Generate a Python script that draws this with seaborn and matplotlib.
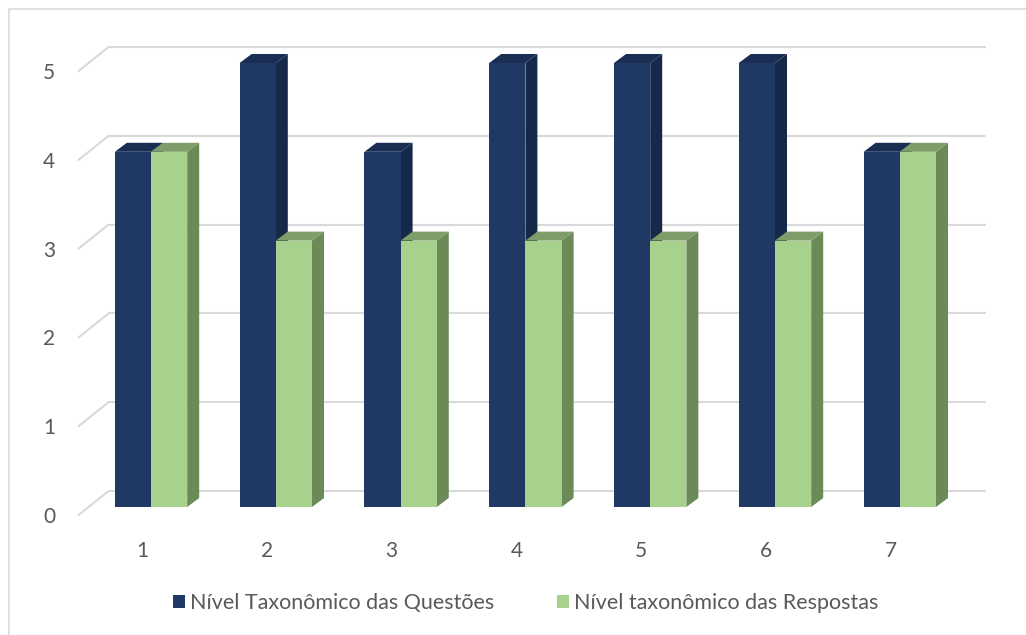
"""
Gráfico de barras (estilo 3D do Excel): nível taxonômico das questões x respostas.
"""
import matplotlib
matplotlib.use("Agg")
import matplotlib.pyplot as plt
from matplotlib.patches import Polygon, Rectangle
from matplotlib.lines import Line2D
from matplotlib.transforms import ScaledTranslation
import pandas as pd
import seaborn as sns

# --- dados ---
questoes = ["1", "2", "3", "4", "5", "6", "7"]
nivel_questoes = [4, 5, 4, 5, 5, 5, 4]
nivel_respostas = [4, 3, 3, 3, 3, 3, 4]
series = ["Nível Taxonômico das Questões", "Nível taxonômico das Respostas"]
yticks = [0, 1, 2, 3, 4, 5]

cores_frente = ["#203864", "#A9D18E"]
cores_lado = ["#172949", "#6B8A58"]
cores_topo = ["#1A2E54", "#7E9D68"]
cor_texto = "#595959"
cor_grade = "#D9D9D9"

df = pd.DataFrame({
    "questao": questoes * 2,
    "nivel": nivel_questoes + nivel_respostas,
    "serie": [series[0]] * len(questoes) + [series[1]] * len(questoes),
})

W, H, DPI = 1026, 635, 100
sns.set_theme(style="white")
plt.rcParams["font.family"] = ["Lato", "DejaVu Sans"]

fig = plt.figure(figsize=(W / DPI, H / DPI), dpi=DPI)
fig.patch.set_facecolor("white")
# borda da área do gráfico (cortada à direita/embaixo, como no original)
fig.patches.append(Rectangle((9 / W, -0.1), 1.2, 1 - 9 / H + 0.1, transform=fig.transFigure,
                             fill=False, edgecolor=cor_grade, linewidth=1.2))

ax = fig.add_axes([88.6 / W, (H - 507) / H, 873.6 / W, 444 / H])
sns.barplot(data=df, x="questao", y="nivel", hue="serie", palette=cores_frente,
            width=0.58, gap=0, saturation=1, legend=False, ax=ax, zorder=3)
ax.set_xlim(-0.5, 6.5)
ax.set_ylim(0, 5)
for s in ax.spines.values():
    s.set_visible(False)
ax.set_xlabel("")
ax.set_ylabel("")

# conversão pixel -> dados
ppx = 873.6 / 7.0
ppy = 444 / 5.0

# profundidade das barras
bdx, bdy = 12 / ppx, 9 / ppy
for i, p in enumerate(ax.patches):
    k = 0 if i < len(questoes) else 1
    p.set_zorder(3)
    p.set_edgecolor("none")
    x0, x1 = p.get_x(), p.get_x() + p.get_width()
    top = p.get_height()
    lado = Polygon([(x1, 0), (x1, top), (x1 + bdx, top + bdy), (x1 + bdx, bdy)],
                   closed=True, facecolor=cores_lado[k], edgecolor="none", zorder=2, clip_on=False)
    topo = Polygon([(x0, top), (x1, top), (x1 + bdx, top + bdy), (x0 + bdx, top + bdy)],
                   closed=True, facecolor=cores_topo[k], edgecolor="none", zorder=2, clip_on=False)
    ax.add_patch(lado)
    ax.add_patch(topo)

# linhas de grade: parede do fundo + diagonal do piso
x_esq = -0.5
fx, fy = -10 / ppx, -8 / ppy   # plano da frente
tx, ty = 20 / ppx, 16 / ppy    # plano do fundo
x_dir = x_esq + (985 - 88.6) / ppx
for v in yticks:
    ax.add_line(Line2D([x_esq + tx, x_dir], [v + ty, v + ty], color=cor_grade,
                       linewidth=1.5, zorder=1, clip_on=False))
    ax.add_line(Line2D([x_esq + fx, x_esq + tx], [v + fy, v + ty], color=cor_grade,
                       linewidth=1.5, zorder=1, clip_on=False))

ax.set_yticks(yticks)
ax.set_yticklabels([str(v) for v in yticks])
ax.tick_params(axis="y", length=0, pad=24, labelsize=15, labelcolor=cor_texto)
ax.tick_params(axis="x", length=0, pad=10, labelsize=15, labelcolor=cor_texto)
desloc_y = ScaledTranslation(0, -8 / DPI, fig.dpi_scale_trans)
for lb in ax.get_yticklabels():
    lb.set_transform(lb.get_transform() + desloc_y)
desloc_x = ScaledTranslation(-9 / DPI, -20 / DPI, fig.dpi_scale_trans)
for lb in ax.get_xticklabels():
    lb.set_transform(lb.get_transform() + desloc_x)
ax.grid(False)

# legenda
alcas = [Rectangle((0, 0), 1, 1, facecolor=c, edgecolor="none") for c in cores_frente]
fig.legend(alcas, series, loc="center", bbox_to_anchor=(526 / W, 1 - 603 / H), ncol=2,
           frameon=False, fontsize=15.5, labelcolor=cor_texto, handlelength=0.55,
           handleheight=0.55, handletextpad=0.25, columnspacing=2.9)

fig.savefig("out.png", dpi=DPI)
